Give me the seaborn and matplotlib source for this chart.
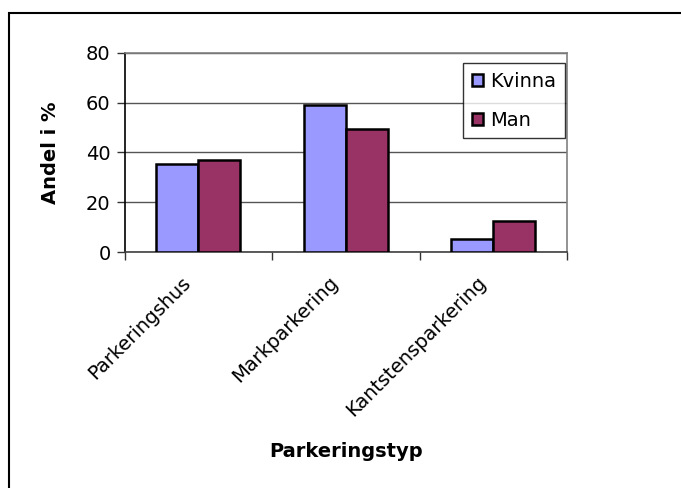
import matplotlib
matplotlib.use("Agg")
import matplotlib.pyplot as plt
import matplotlib.transforms as mtransforms
from matplotlib.patches import Rectangle
import seaborn as sns
import pandas as pd

# Data
categories = ["Parkeringshus", "Markparkering", "Kantstensparkering"]
kvinna = [35.2, 59.2, 5.2]
man = [36.8, 49.4, 12.4]
series_names = ["Kvinna", "Man"]
y_ticks = [0, 20, 40, 60, 80]

df = pd.DataFrame({
    "Parkeringstyp": categories * 2,
    "Andel": kvinna + man,
    "Kön": [series_names[0]] * 3 + [series_names[1]] * 3,
})

sns.set_style("white")
plt.rcParams["font.family"] = ["DejaVu Sans"]
plt.rcParams["font.size"] = 14
plt.rcParams["text.color"] = "black"
plt.rcParams["axes.labelcolor"] = "black"
plt.rcParams["xtick.color"] = "black"
plt.rcParams["ytick.color"] = "black"

W, H = 681, 488
fig = plt.figure(figsize=(W / 100, H / 100), dpi=100)
ax = fig.add_axes([124.5 / W, 1 - 252 / H, (567 - 124.5) / W, (252 - 52.7) / H])

sns.barplot(data=df, x="Parkeringstyp", y="Andel", hue="Kön",
            palette=["#9999FF", "#993366"], width=2 / 3.5, gap=0,
            edgecolor="black", linewidth=1.8, saturation=1, ax=ax, zorder=3)

ax.set_xlim(-0.5, 2.5)
ax.set_ylim(0, 80)
ax.set_yticks(y_ticks)
ax.set_yticklabels([str(v) for v in y_ticks], fontsize=14)
ax.yaxis.grid(True, color="#555555", linewidth=1.0, zorder=0)
ax.set_axisbelow(True)

# category boundary ticks, labels centred without ticks
ax.set_xticks([-0.5, 0.5, 1.5, 2.5], minor=True)
ax.tick_params(axis="x", which="minor", length=6, width=1, color="#333333",
               direction="out", bottom=True)
ax.tick_params(axis="x", which="major", length=0, pad=15)
ax.tick_params(axis="y", length=6, width=1, color="#333333", direction="out",
               left=True, pad=4)

offset = mtransforms.ScaledTranslation(-17 / 100, 0, fig.dpi_scale_trans)
for lbl in ax.get_xticklabels():
    lbl.set_rotation(45)
    lbl.set_ha("right")
    lbl.set_va("top")
    lbl.set_rotation_mode("anchor")
    lbl.set_fontsize(14)
    lbl.set_color("black")
    lbl.set_transform(lbl.get_transform() + offset)

for side in ["top", "right"]:
    ax.spines[side].set_visible(True)
    ax.spines[side].set_color("#808080")
    ax.spines[side].set_linewidth(1.2)
ax.spines["left"].set_color("black")
ax.spines["left"].set_linewidth(1.2)
ax.spines["bottom"].set_color("#404040")
ax.spines["bottom"].set_linewidth(1.2)

ax.set_xlabel("Parkeringstyp", fontsize=14, fontweight="bold", color="black")
ax.xaxis.set_label_coords(0.5, -0.955)
ax.set_ylabel("Andel i %", fontsize=14, fontweight="bold", color="black")
ax.yaxis.set_label_coords(-0.145, 0.5)

handles, labels = ax.get_legend_handles_labels()
leg = ax.legend(handles, labels, loc="upper right",
                bbox_to_anchor=(565 / W, 1 - 63.4 / H),
                bbox_transform=fig.transFigure, frameon=True, fancybox=False,
                edgecolor="black", fontsize=14, handlelength=0.6,
                handleheight=0.6, handletextpad=0.35, labelspacing=1.0,
                borderpad=0.45, borderaxespad=0)
leg.get_frame().set_linewidth(1.0)
for h in leg.legend_handles:
    h.set_edgecolor("black")
    h.set_linewidth(1.8)
for t in leg.get_texts():
    t.set_color("black")

# chart area frame
fig.patches.append(Rectangle((8.7 / W, -0.1), 1.2, 1 - 13.4 / H + 0.1,
                             transform=fig.transFigure, fill=False,
                             edgecolor="black", linewidth=1.5))

fig.savefig("out.png", dpi=100, facecolor="white")
